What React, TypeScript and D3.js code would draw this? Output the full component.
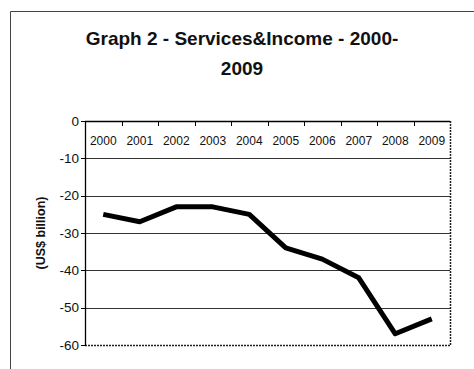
import React from "react";
import * as d3 from "d3";

const years = ["2000", "2001", "2002", "2003", "2004", "2005", "2006", "2007", "2008", "2009"];
const values = [-25, -27, -23, -23, -25, -34, -37, -42, -57, -53];
const yTicks = [0, -10, -20, -30, -40, -50, -60];
const titleLines = ["Graph 2 - Services&Income - 2000-", "2009"];
const yLabel = "(US$ billion)";

export default function App() {
  const W = 474, H = 369;
  const left = 85, right = 450, top = 121, bottom = 345;
  const x = d3.scaleBand<string>().domain(years).range([left, right]);
  const y = d3.scaleLinear().domain([0, -60]).range([top, bottom]);
  const line = d3.line<number>()
    .x((_, i) => (x(years[i]) as number) + x.bandwidth() / 2)
    .y((d) => y(d));
  const font = "Arial, 'Liberation Sans', Helvetica, sans-serif";
  return (
    <svg width={W} height={H} style={{ position: "absolute", left: 0, top: 0, background: "#fff" }} fontFamily={font}>
      {/* outer frame */}
      <line x1={10.5} y1={11.5} x2={W} y2={11.5} stroke="#444" strokeWidth={1} />
      <line x1={10.5} y1={11.5} x2={10.5} y2={H} stroke="#444" strokeWidth={1} />
      {/* title */}
      {titleLines.map((t, i) => (
        <text key={i} x={242} y={45 + i * 30} textAnchor="middle" fontSize={19} fontWeight="bold" fill="#111">{t}</text>
      ))}
      {/* gridlines */}
      {yTicks.filter((v) => v !== 0 && v !== -60).map((v) => (
        <line key={v} x1={left} x2={right} y1={Math.round(y(v)) + 0.5} y2={Math.round(y(v)) + 0.5} stroke="#333" strokeWidth={1} />
      ))}
      {/* plot border */}
      <line x1={right + 0.5} x2={right + 0.5} y1={top} y2={bottom} stroke="#222" strokeWidth={1.5} strokeDasharray="2,1" />
      <line x1={left} x2={right} y1={bottom + 0.5} y2={bottom + 0.5} stroke="#222" strokeWidth={1.5} strokeDasharray="2,1" />
      <line x1={left + 0.5} x2={left + 0.5} y1={top} y2={bottom + 1} stroke="#000" strokeWidth={1.3} />
      <line x1={left} x2={right} y1={top + 0.5} y2={top + 0.5} stroke="#000" strokeWidth={1.3} />
      {/* y ticks */}
      {yTicks.map((v) => (
        <g key={v}>
          <line x1={left - 4} x2={left} y1={Math.round(y(v)) + 0.5} y2={Math.round(y(v)) + 0.5} stroke="#000" />
          <text x={left - 6} y={y(v)} dy="0.35em" textAnchor="end" fontSize={13.5} fill="#111">{v}</text>
        </g>
      ))}
      {/* x ticks at top */}
      {years.map((yr, i) => (
        <g key={yr}>
          {i > 0 && (
            <line x1={Math.round(x(yr) as number) + 0.5} x2={Math.round(x(yr) as number) + 0.5} y1={top} y2={top + 5} stroke="#000" />
          )}
          <text x={(x(yr) as number) + x.bandwidth() / 2} y={top + 24} textAnchor="middle" fontSize={12} fill="#111">{yr}</text>
        </g>
      ))}
      {/* y label */}
      <text transform={`translate(45, ${(y(-20) + y(-40)) / 2}) rotate(-90)`} textAnchor="middle" fontSize={12.5} fontWeight="bold" fill="#111">{yLabel}</text>
      {/* series */}
      <path d={line(values) || ""} fill="none" stroke="#000" strokeWidth={5} strokeLinejoin="round" strokeLinecap="butt" />
    </svg>
  );
}
